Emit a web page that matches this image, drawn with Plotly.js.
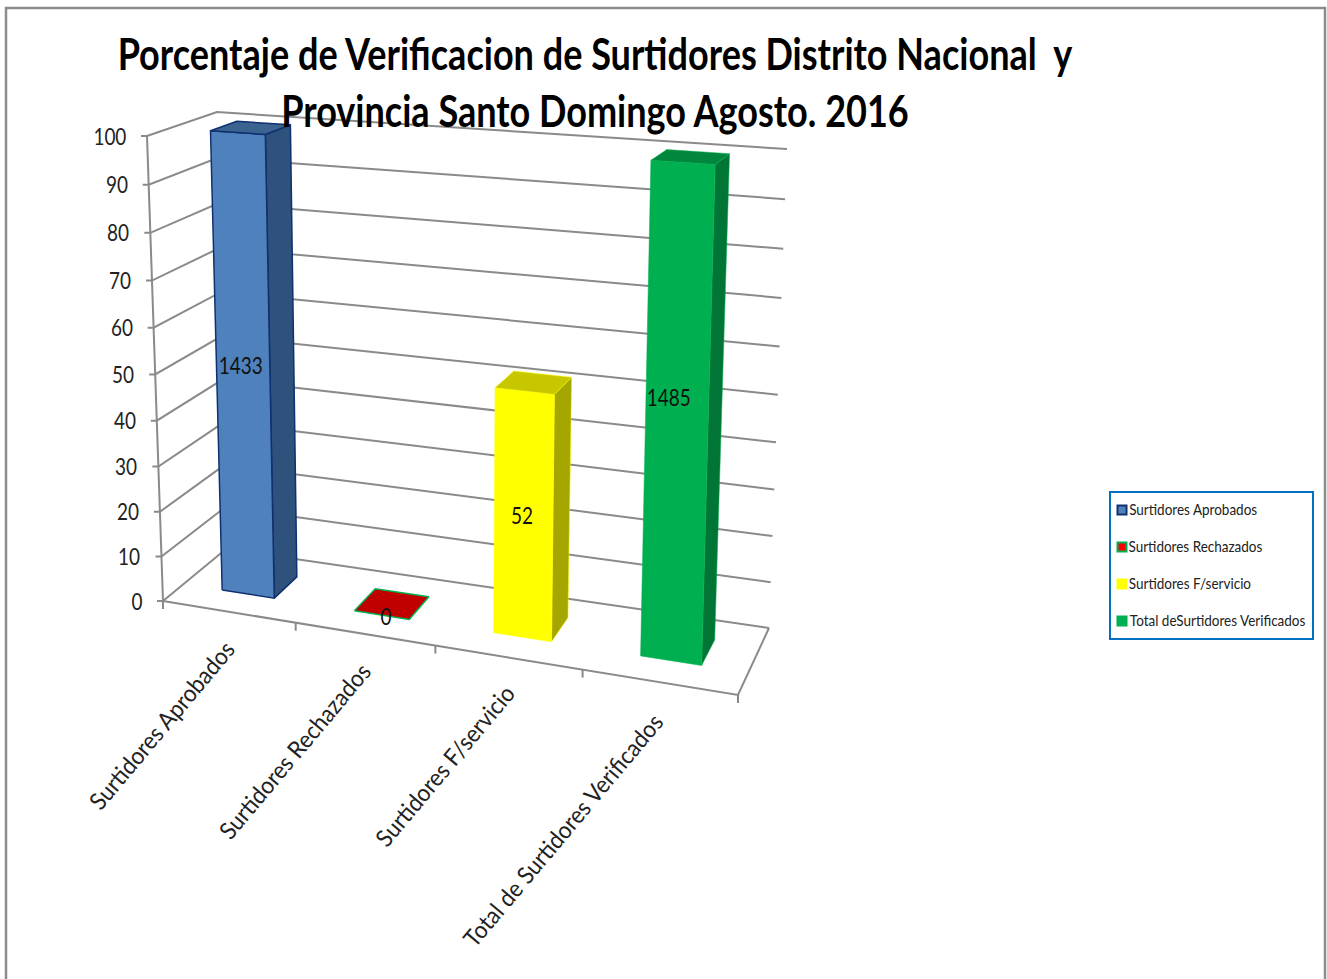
<!DOCTYPE html>
<html><head><meta charset="utf-8"><script src="https://cdn.plot.ly/plotly-3.0.1.min.js"></script>
<style>html,body{margin:0;padding:0;background:#fff}#c{width:1327px;height:979px}</style></head>
<body><div id="c"></div><script>
const categories=["Surtidores Aprobados","Surtidores Rechazados","Surtidores F/servicio","Total de Surtidores Verificados"];
const legendLabels=["Surtidores Aprobados","Surtidores Rechazados","Surtidores F/servicio","Total deSurtidores Verificados"];
const values=[1433,0,52,1485];
const yTicks=[0,10,20,30,40,50,60,70,80,90,100];
const titleLines=["Porcentaje de Verificacion de Surtidores Distrito Nacional\u00a0\u00a0y","Provincia Santo Domingo Agosto. 2016"];

const frontColors=["#4f81bd","#c00000","#ffff00","#00b050"];
const sideColors=["#2f527c","#8a0000","#a6a600","#007535"];
const topColors=["#3a6390","#c00000","#c7c700","#00873d"];
const edgeColors=["#10306f","#00b050","#ffff00","#00b050"];
const swatchColors=["#4f81bd","#ff0000","#ffff00","#00b050"];
const swatchEdges=["#10306f","#00b050","#ffff00","#00b050"];
const labelNudge=[[-2,-5],[4,0],[-1,-1],[-8,-21]];

const FONT='Lato,"Liberation Sans",sans-serif';
const GRID='#8a8a8a';
const C={A:[163,601],G:[738,695],C:[226,549],E:[769,628],B:[147,136],H:[753,177],D:[217,112],F:[787,149]};
const warpU=u=>u*0.9/(1-0.1*u), warpV=f=>f*0.95/(1-0.05*f);
function P(u,w,v){
  const a=warpU(u),f=warpV(Math.min(v,100)/100);
  const mix=(k)=>{
    const b=(1-a)*(1-w)*C.A[k]+a*(1-w)*C.G[k]+(1-a)*w*C.C[k]+a*w*C.E[k];
    const t=(1-a)*(1-w)*C.B[k]+a*(1-w)*C.H[k]+(1-a)*w*C.D[k]+a*w*C.F[k];
    return b+(t-b)*f;};
  return [mix(0),mix(1)];
}
const ctx=document.createElement('canvas').getContext('2d');
function textW(t,size,bold){ctx.font=(bold?'700 ':'')+size+'px '+FONT;return ctx.measureText(t).width;}

const traces=[];
function line(pts,color=GRID,width=2){traces.push({type:'scatter',mode:'lines',x:pts.map(p=>p[0]),y:pts.map(p=>p[1]),line:{color,width},hoverinfo:'skip',showlegend:false});}
function poly(pts,fill,edge,w){const c=[...pts,pts[0]];traces.push({type:'scatter',mode:'lines',x:c.map(p=>p[0]),y:c.map(p=>p[1]),fill:'toself',fillcolor:fill,line:{color:edge,width:w},hoverinfo:'skip',showlegend:false});}

yTicks.forEach(t=>{
  const a=P(0,0,t),b=P(0,1,t),c=P(1,1,t);
  line([[a[0]-6,a[1]],a,b,c]);
});
line([P(0,0,0),P(0,0,100)]);
line([P(0,0,0),P(1,0,0),P(1,1,0)]);
[0,1,2,3,4].forEach(i=>{const p=P(i/4,0,0);line([p,[p[0],p[1]+8]]);});

const w0=0.33,w1=0.72,h=0.05;
values.forEach((val,i)=>{
  const c=(i+0.5)/4,l=c-h,r=c+h,ew=i===0||i===1?1.5:0.5;
  if(val>0){
    poly([P(r,w0,0),P(r,w1,0),P(r,w1,val),P(r,w0,val)],sideColors[i],edgeColors[i],ew);
    poly([P(l,w0,0),P(r,w0,0),P(r,w0,val),P(l,w0,val)],frontColors[i],edgeColors[i],ew);
  }
  poly([P(l,w0,val),P(r,w0,val),P(r,w1,val),P(l,w1,val)],topColors[i],edgeColors[i],ew);
});

swatchColors.forEach((col,i)=>{
  traces.push({type:'scatter',mode:'markers',x:[1122],y:[510+37*i],marker:{symbol:'square',size:9,color:col,line:{color:swatchEdges[i],width:2}},hoverinfo:'skip',showlegend:false});
});

const NUM=24, LEG=15, TITLE=44;
const numF=33/textW("100",NUM), legF=176/textW(legendLabels[3],LEG);
const ann=[],squeeze=[];
function add(a,f){ann.push(Object.assign({showarrow:false},a));squeeze.push(f);}
yTicks.forEach(t=>{const p=P(0,0,t),s=String(t),wd=textW(s,NUM)*numF;
  add({x:p[0]-21-wd/2,y:p[1]-1,text:s,xanchor:'center',yanchor:'middle',font:{family:FONT,size:NUM,color:'#222'}},numF);});
categories.forEach((t,i)=>{const p=P((i+0.5)/4,0,0);
  add({x:p[0]+20,y:p[1]+13,text:t,xanchor:'right',yanchor:'top',textangle:-50,font:{family:FONT,size:24,color:'#222'}},0.925);});
values.forEach((v,i)=>{const p=P((i+0.5)/4,w0,Math.min(v,100)/2);
  add({x:p[0]+labelNudge[i][0],y:p[1]+labelNudge[i][1],text:String(v),xanchor:'center',yanchor:'middle',font:{family:FONT,size:NUM,color:'#111'}},numF);});
legendLabels.forEach((t,i)=>{const wd=textW(t,LEG)*legF;
  add({x:1129+wd/2,y:509+37*i,text:t,xanchor:'center',yanchor:'middle',font:{family:FONT,size:LEG,color:'#222'}},legF);});

const layout={width:1327,height:979,margin:{l:0,r:0,t:0,b:0},paper_bgcolor:'#fff',plot_bgcolor:'#fff',showlegend:false,
 title:{text:titleLines.join('<br>'),x:595/1327,xanchor:'center',y:0.929,yanchor:'top',font:{family:FONT,size:TITLE,weight:700,color:'#000'}},
 xaxis:{range:[0,1327],visible:false,fixedrange:true},yaxis:{range:[979,0],visible:false,fixedrange:true},
 annotations:ann,
 shapes:[
  {type:'rect',xref:'x',yref:'y',x0:6,y0:8,x1:1325,y1:1000,line:{color:'#8c8c8c',width:2.5},layer:'below'},
  {type:'rect',xref:'x',yref:'y',x0:1110,y0:492,x1:1313,y1:639,line:{color:'#0070c0',width:2},fillcolor:'#fff',layer:'below'}
 ]};
function condense(el,f){const n=el.getComputedTextLength();el.setAttribute('textLength',(n*f).toFixed(1));el.setAttribute('lengthAdjust','spacingAndGlyphs');}
Plotly.newPlot('c',traces,layout,{staticPlot:true,displayModeBar:false}).then(()=>{
  document.querySelectorAll('#c .annotation').forEach(g=>{
    const i=+g.getAttribute('data-index'),t=g.querySelector('text');
    if(t&&squeeze[i]!==1)condense(t,squeeze[i]);
  });
  const tt=document.querySelector('#c .gtitle');
  if(tt){const f=956/textW(titleLines[0],TITLE,true);
    const ls=tt.querySelectorAll('tspan.line');
    (ls.length?ls:[tt]).forEach(l=>condense(l,f));}
});
</script></body></html>
